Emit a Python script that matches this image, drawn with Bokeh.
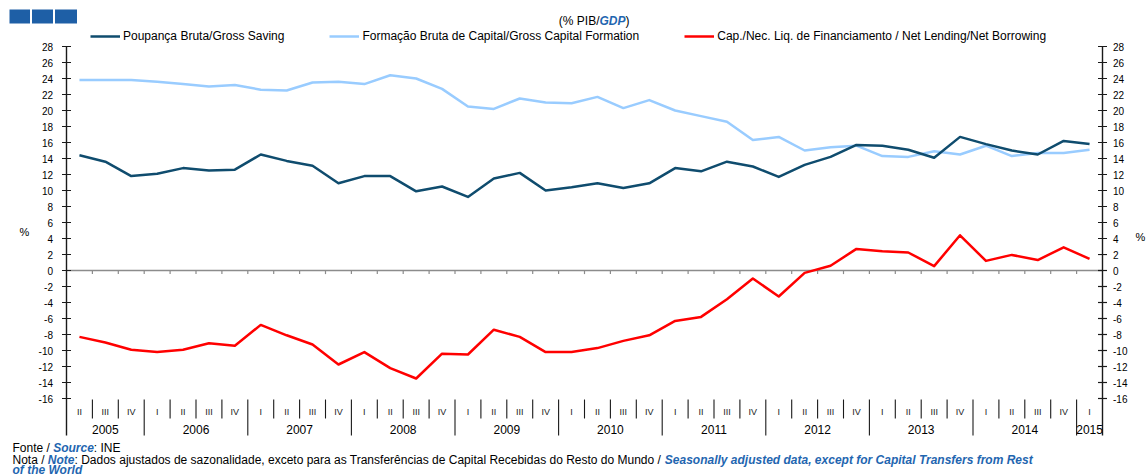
import numpy as np
from bokeh.plotting import figure
from bokeh.models import Range1d, Label, Legend, LegendItem, ColumnDataSource
from bokeh.core.properties import value
from bokeh.embed import file_html
from bokeh.resources import INLINE

# ---------------- data ----------------
periods = ["2005 II", "2005 III", "2005 IV",
           "2006 I", "2006 II", "2006 III", "2006 IV",
           "2007 I", "2007 II", "2007 III", "2007 IV",
           "2008 I", "2008 II", "2008 III", "2008 IV",
           "2009 I", "2009 II", "2009 III", "2009 IV",
           "2010 I", "2010 II", "2010 III", "2010 IV",
           "2011 I", "2011 II", "2011 III", "2011 IV",
           "2012 I", "2012 II", "2012 III", "2012 IV",
           "2013 I", "2013 II", "2013 III", "2013 IV",
           "2014 I", "2014 II", "2014 III", "2014 IV",
           "2015 I"]

gross_saving = [14.4, 13.6, 11.8, 12.1, 12.8, 12.5, 12.6, 14.5, 13.7, 13.1,
                10.9, 11.8, 11.8, 9.9, 10.5, 9.2, 11.5, 12.2, 10.0, 10.4,
                10.9, 10.3, 10.9, 12.8, 12.4, 13.6, 13.0, 11.7, 13.2, 14.2,
                15.7, 15.6, 15.1, 14.1, 16.7, 15.8, 15.0, 14.5, 16.2, 15.8]

gross_capital_formation = [23.8, 23.8, 23.8, 23.6, 23.3, 23.0, 23.2, 22.6, 22.5, 23.5,
                           23.6, 23.3, 24.4, 24.0, 22.7, 20.5, 20.2, 21.5, 21.0, 20.9,
                           21.7, 20.3, 21.3, 20.0, 19.3, 18.6, 16.3, 16.7, 15.0, 15.4,
                           15.6, 14.3, 14.2, 14.9, 14.5, 15.6, 14.3, 14.7, 14.7, 15.1]

net_lending = [-8.3, -9.0, -9.9, -10.2, -9.9, -9.1, -9.4, -6.8, -8.1, -9.25,
               -11.75, -10.2, -12.2, -13.5, -10.4, -10.5, -7.4, -8.3, -10.2, -10.2,
               -9.7, -8.8, -8.1, -6.3, -5.8, -3.6, -1.0, -3.25, -0.3, 0.6,
               2.7, 2.4, 2.25, 0.55, 4.4, 1.2, 1.95, 1.3, 2.9, 1.45]

y_ticks = [-16, -14, -12, -10, -8, -6, -4, -2, 0, 2, 4, 6, 8, 10, 12, 14,
           16, 18, 20, 22, 24, 26, 28]

series_labels = ["Poupança Bruta/Gross Saving",
                 "Formação Bruta de Capital/Gross Capital Formation",
                 "Cap./Nec. Liq. de Financiamento / Net Lending/Net Borrowing"]

# ---------------- styling / geometry ----------------
FONT = "Liberation Sans"
C_GS = "#0f4c6e"
C_GCF = "#99ccff"
C_NL = "#ff0000"
C_BLUE = "#1f66b0"
C_SQ = "#1e5fa6"
C_AX = "#1a1a1a"

W, H = 1148, 476
N = len(periods)
PX_L, PX_R = 66.0, 1102.0      # plot-area left/right (px)
PX_TOP, PX_PER_UNIT = 46.0, 8.0  # y=28 at 46px, 8px per unit
CAT_W = (PX_R - PX_L) / N
Y_TOP = 28

def dx(ix):
    return (ix - PX_L) / CAT_W

def dy(iy):
    return Y_TOP - (iy - PX_TOP) / PX_PER_UNIT

AR = {' ': 278, '!': 278, '%': 889, '(': 333, ')': 333, ',': 278, '-': 333, '.': 278,
      '/': 278, ':': 278, 'A': 667, 'B': 667, 'C': 722, 'D': 722, 'E': 667, 'F': 611,
      'G': 778, 'H': 722, 'I': 278, 'J': 500, 'K': 667, 'L': 556, 'M': 833, 'N': 722,
      'O': 778, 'P': 667, 'Q': 778, 'R': 722, 'S': 667, 'T': 611, 'U': 722, 'V': 667,
      'W': 944, 'X': 667, 'Y': 667, 'Z': 611, 'a': 556, 'b': 556, 'c': 500, 'd': 556,
      'e': 556, 'f': 278, 'g': 556, 'h': 556, 'i': 222, 'j': 222, 'k': 500, 'l': 222,
      'm': 833, 'n': 556, 'o': 556, 'p': 556, 'q': 556, 'r': 333, 's': 500, 't': 278,
      'u': 556, 'v': 500, 'w': 722, 'x': 500, 'y': 500, 'z': 500, 'ç': 500, 'ã': 556,
      'ê': 556, 'í': 278}
ARB = dict(AR)
ARB.update({':': 333, 'A': 722, 'B': 722, 'R': 722, 'b': 611, 'c': 556, 'd': 611,
            'f': 333, 'g': 611, 'h': 611, 'i': 278, 'j': 278, 'k': 556, 'l': 278,
            'm': 889, 'n': 611, 'o': 611, 'p': 611, 'q': 611, 'r': 389, 's': 556,
            't': 333, 'u': 611, 'v': 556, 'w': 778, 'x': 556, 'y': 556})

def tw(s, size, bold=False):
    tab = ARB if bold else AR
    return sum(tab.get(c, 556) for c in s) / 1000.0 * size

# ---------------- figure (frame = whole canvas) ----------------
p = figure(width=W, height=H,
           x_range=Range1d(dx(0), dx(W)), y_range=Range1d(dy(H), dy(0)),
           x_axis_type=None, y_axis_type=None, toolbar_location=None,
           output_backend="svg", min_border=0, outline_line_color=None,
           background_fill_color="white", border_fill_color="white")

xs = [i + 0.5 for i in range(N)]
quarter_lbl = [s.split()[1] for s in periods]
year_lbl = [s.split()[0] for s in periods]
bounds = list(range(1, N))
y_bottom = dy(435)

# zero line + downward ticks at quarter boundaries
p.segment(x0=[0], y0=[0], x1=[N], y1=[0], line_color="#8c8c8c", line_width=1.6)
p.segment(x0=bounds, y0=[0] * len(bounds), x1=bounds, y1=[-0.45] * len(bounds),
          line_color="#8c8c8c", line_width=1.2)

# value axes (left and right): lines, crossing ticks, labels
p.segment(x0=[0, N], y0=[Y_TOP, Y_TOP], x1=[0, N], y1=[y_bottom, y_bottom],
          line_color=C_AX, line_width=1.4)
nt = len(y_ticks)
p.segment(x0=[dx(61.5)] * nt, y0=y_ticks, x1=[dx(70.5)] * nt, y1=y_ticks,
          line_color=C_AX, line_width=1.2)
p.segment(x0=[dx(1097.5)] * nt, y0=y_ticks, x1=[dx(1106.5)] * nt, y1=y_ticks,
          line_color=C_AX, line_width=1.2)
tick_txt = [str(t) for t in y_ticks]
p.text(x=[dx(52.5)] * nt, y=y_ticks, text=tick_txt, text_align="right",
       text_baseline="middle", text_font=value(FONT), text_font_size=value("10px"),
       text_color="#000000")
p.text(x=[dx(1112.5)] * nt, y=y_ticks, text=tick_txt, text_align="left",
       text_baseline="middle", text_font=value(FONT), text_font_size=value("10px"),
       text_color="#000000")

# series
src = ColumnDataSource(dict(x=xs, gs=gross_saving, gcf=gross_capital_formation, nl=net_lending))
r_gcf = p.line("x", "gcf", source=src, line_color=C_GCF, line_width=2.5, line_join="round")
r_gs = p.line("x", "gs", source=src, line_color=C_GS, line_width=2.5, line_join="round")
r_nl = p.line("x", "nl", source=src, line_color=C_NL, line_width=2.5, line_join="round")

# category axis: quarter labels, year labels, separators
q_sep = [b for b in bounds if year_lbl[b] == year_lbl[b - 1]]
y_sep = [b for b in bounds if year_lbl[b] != year_lbl[b - 1]]
p.segment(x0=q_sep, y0=[dy(399)] * len(q_sep), x1=q_sep, y1=[dy(418)] * len(q_sep),
          line_color=C_AX, line_width=1.1)
p.segment(x0=y_sep, y0=[dy(399)] * len(y_sep), x1=y_sep, y1=[y_bottom] * len(y_sep),
          line_color=C_AX, line_width=1.1)
p.text(x=xs, y=[dy(411.5)] * N, text=quarter_lbl, text_align="center",
       text_baseline="middle", text_font=value(FONT), text_font_size=value("9px"),
       text_color="#222222")
yrs = []
for y in year_lbl:
    if y not in yrs:
        yrs.append(y)
yr_x = [float(np.mean([xs[i] for i in range(N) if year_lbl[i] == y])) for y in yrs]
p.text(x=yr_x, y=[dy(429)] * len(yrs), text=yrs, text_align="center",
       text_baseline="middle", text_font=value(FONT), text_font_size=value("12px"),
       text_color="#000000")

# legend (inside the full-canvas frame, above the plot area)
LEG_H = 14
legend = Legend(items=[LegendItem(label=series_labels[0], renderers=[r_gs]),
                       LegendItem(label=series_labels[1], renderers=[r_gcf]),
                       LegendItem(label=series_labels[2], renderers=[r_nl])],
                orientation="horizontal", location=(90, H - 36 - LEG_H / 2),
                padding=0, margin=0, spacing=45, glyph_width=30, glyph_height=LEG_H,
                label_height=LEG_H, label_standoff=3, label_text_font=FONT,
                label_text_font_size="12px", label_text_color="#000000",
                border_line_color=None, background_fill_alpha=0)
p.add_layout(legend)

# multi-style text
def chain(pieces, ix, iy, size=12):
    x = ix
    for txt, blue in pieces:
        p.add_layout(Label(x=dx(x), y=dy(iy), text=txt, text_font=FONT,
                           text_font_size=f"{size}px",
                           text_font_style="bold italic" if blue else "normal",
                           text_color=C_BLUE if blue else "#000000",
                           text_align="left", text_baseline="middle"))
        x += tw(txt, size, blue)

xg = 599
p.add_layout(Label(x=dx(xg), y=dy(20.5), text="(% PIB/", text_font=FONT,
                   text_font_size="12px", text_color="#000000", text_align="right",
                   text_baseline="middle"))
chain([("GDP", True), (")", False)], xg, 20.5)

for ix, iy in ((24, 231), (1140, 236)):
    p.add_layout(Label(x=dx(ix), y=dy(iy), text="%", text_font=FONT, text_font_size="11px",
                       text_color="#000000", text_align="center", text_baseline="middle"))

chain([("Fonte / ", False), ("Source", True), (":  INE", False)], 12, 447.5)
chain([("Nota / ", False), ("Note", True),
       (": Dados ajustados de sazonalidade, exceto para as Transferências de Capital "
        "Recebidas do Resto do Mundo / ", False),
       ("Seasonally adjusted data, except for Capital Transfers from Rest", True)], 12, 459.5)
chain([("of the World", True)], 12, 469.5)

# three blue squares, top-left
sq_l = [dx(9), dx(31.5), dx(54.5)]
sq_r = [dx(29.5), dx(52.5), dx(76.5)]
p.quad(left=sq_l, right=sq_r, top=[dy(9)] * 3, bottom=[dy(23)] * 3,
       fill_color=C_SQ, line_color=None)

open("out.html", "w").write(file_html(p, INLINE))
